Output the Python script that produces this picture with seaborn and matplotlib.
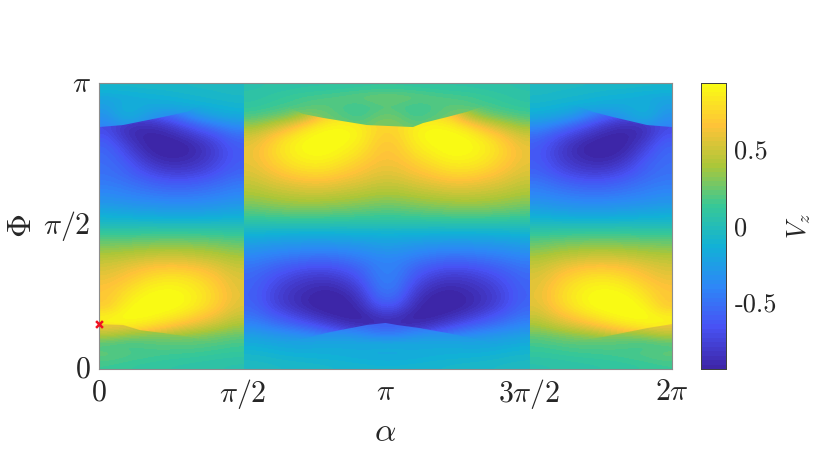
#!/usr/bin/env python

# V_z map over alpha and Phi
# three blocks because the map jumps at pi/2 and 3pi/2
# the strips hold the values on the far side of the two sharp ridges

import numpy as np
import pandas as pd
import seaborn as sns
import matplotlib.pyplot as plt
from matplotlib.colors import LinearSegmentedColormap
from matplotlib.patches import Polygon

x_labels = ["$0$", r"$\pi/2$", r"$\pi$", r"$3\pi/2$", r"$2\pi$"]
y_labels = ["$0$", r"$\pi/2$", r"$\pi$"]
cbar_values = [-0.5, 0, 0.5]
cbar_labels = ["-0.5", "0", "0.5"]
v_limit = 0.935
start_point = (0.0, 0.159)  # alpha/pi, Phi/pi

parula = [
    (0.2422, 0.1504, 0.6603),
    (0.2810, 0.3228, 0.9579),
    (0.1786, 0.5289, 0.9682),
    (0.0689, 0.6948, 0.8394),
    (0.2161, 0.7843, 0.5923),
    (0.6720, 0.7793, 0.2227),
    (0.9970, 0.7659, 0.2199),
    (0.9769, 0.9839, 0.0805),
]

# ridges, in units of pi
top_ridge_alpha = [0, .084, .223, .307, .405, .604, .712, .782, .935, 1.002,
                   1.096, 1.131, 1.215, 1.284, 1.400, 1.606, 1.724, 1.794, 1.913, 2]
top_ridge_phi = [.846, .853, .881, .899, .941, .941, .892, .878, .853, .850,
                 .846, .860, .881, .899, .941, .941, .899, .881, .853, .846]
bottom_ridge_alpha = [0, .084, .143, .223, .318, .405, .604, .736, .806, .935, 1.0,
                      1.040, 1.120, 1.215, 1.305, 1.400, 1.606, 1.738, 1.794, 1.913, 2]
bottom_ridge_phi = [.157, .154, .136, .126, .112, .084, .084, .112, .129, .154, .161,
                    .154, .143, .126, .108, .084, .084, .108, .119, .143, .157]

# rows run from Phi = pi (top) to Phi = 0 (bottom)
left_block = [
    [-.08, -.08, -.07, -.07, -.06, -.05, -.05, -.04],
    [-.20, -.18, -.15, -.13, -.11, -.09, -.07, -.06],
    [-.55, -.55, -.52, -.42, -.28, -.15, -.13, -.10],
    [-.64, -.70, -.72, -.62, -.47, -.30, -.22, -.18],
    [-.72, -.85, -.88, -.84, -.72, -.58, -.45, -.35],
    [-.65, -.86, -.93, -.93, -.86, -.76, -.65, -.52],
    [-.58, -.76, -.92, -.96, -.95, -.87, -.74, -.60],
    [-.54, -.68, -.86, -.94, -.94, -.88, -.76, -.62],
    [-.52, -.60, -.76, -.86, -.87, -.82, -.72, -.60],
    [-.50, -.56, -.66, -.74, -.76, -.73, -.65, -.56],
    [-.45, -.49, -.55, -.60, -.62, -.59, -.54, -.47],
    [-.38, -.42, -.46, -.49, -.50, -.48, -.45, -.40],
    [-.30, -.33, -.35, -.37, -.38, -.37, -.34, -.31],
    [-.19, -.21, -.23, -.24, -.25, -.24, -.23, -.20],
    [-.07, -.08, -.08, -.09, -.09, -.09, -.08, -.07],
    [.08, .08, .09, .09, .09, .09, .08, .07],
    [.22, .23, .24, .25, .25, .24, .23, .20],
    [.34, .36, .38, .40, .40, .38, .35, .31],
    [.46, .49, .53, .55, .55, .52, .48, .42],
    [.54, .60, .66, .70, .70, .66, .59, .50],
    [.60, .67, .76, .82, .82, .76, .66, .55],
    [.66, .75, .86, .91, .90, .83, .71, .57],
    [.68, .82, .93, .96, .94, .85, .73, .58],
    [.70, .90, .96, .96, .92, .82, .70, .55],
    [.88, .95, .94, .88, .80, .70, .60, .48],
    [.88, .86, .80, .72, .62, .54, .46, .37],
    [.70, .62, .52, .42, .34, .30, .27, .23],
    [.30, .22, .18, .17, .20, .20, .18, .15],
    [.24, .20, .18, .15, .14, .13, .11, .10],
    [.14, .12, .10, .09, .08, .07, .06, .05],
]

middle_block = [
    [.05, .06, .07, .08, .08, .09, .10, .11, .11, .10, .09, .08, .08, .07, .06, .05],
    [.07, .10, .13, .16, .18, .21, .24, .27, .27, .24, .21, .18, .16, .13, .10, .07],
    [.10, .13, .16, .26, .58, .68, .68, .66, .66, .68, .68, .58, .26, .16, .13, .10],
    [.18, .24, .30, .44, .74, .80, .78, .70, .70, .78, .80, .74, .44, .30, .24, .18],
    [.35, .45, .58, .76, .88, .90, .86, .74, .74, .86, .90, .88, .76, .58, .45, .35],
    [.50, .64, .78, .90, .95, .95, .88, .72, .72, .88, .95, .95, .90, .78, .64, .50],
    [.58, .72, .86, .94, .96, .92, .84, .68, .68, .84, .92, .96, .94, .86, .72, .58],
    [.60, .73, .85, .92, .93, .86, .78, .66, .66, .78, .86, .93, .92, .85, .73, .60],
    [.58, .69, .79, .85, .85, .78, .70, .62, .62, .70, .78, .85, .85, .79, .69, .58],
    [.54, .62, .70, .75, .75, .69, .63, .57, .57, .63, .69, .75, .75, .70, .62, .54],
    [.47, .54, .58, .62, .62, .58, .54, .49, .49, .54, .58, .62, .62, .58, .54, .47],
    [.40, .45, .48, .50, .50, .47, .44, .40, .40, .44, .47, .50, .50, .48, .45, .40],
    [.31, .34, .37, .38, .37, .35, .33, .30, .30, .33, .35, .37, .38, .37, .34, .31],
    [.20, .23, .24, .25, .24, .23, .21, .19, .19, .21, .23, .24, .25, .24, .23, .20],
    [.07, .08, .09, .09, .09, .08, .08, .07, .07, .08, .08, .09, .09, .09, .08, .07],
    [-.07, -.08, -.09, -.09, -.09, -.09, -.08, -.08, -.08, -.08, -.09, -.09, -.09, -.09, -.08, -.07],
    [-.20, -.23, -.24, -.25, -.25, -.24, -.23, -.21, -.21, -.23, -.24, -.25, -.25, -.24, -.23, -.20],
    [-.31, -.35, -.37, -.39, -.40, -.38, -.35, -.30, -.30, -.35, -.38, -.40, -.39, -.37, -.35, -.31],
    [-.42, -.47, -.51, -.54, -.55, -.52, -.46, -.40, -.40, -.46, -.52, -.55, -.54, -.51, -.47, -.42],
    [-.50, -.58, -.64, -.69, -.70, -.66, -.57, -.42, -.42, -.57, -.66, -.70, -.69, -.64, -.58, -.50],
    [-.55, -.65, -.74, -.80, -.82, -.77, -.65, -.44, -.44, -.65, -.77, -.82, -.80, -.74, -.65, -.55],
    [-.57, -.70, -.81, -.87, -.91, -.87, -.74, -.47, -.47, -.74, -.87, -.91, -.87, -.81, -.70, -.57],
    [-.58, -.72, -.84, -.91, -.96, -.94, -.82, -.54, -.54, -.82, -.94, -.96, -.91, -.84, -.72, -.58],
    [-.55, -.69, -.81, -.90, -.96, -.96, -.89, -.66, -.66, -.89, -.96, -.96, -.90, -.81, -.69, -.55],
    [-.48, -.58, -.68, -.78, -.87, -.94, -.95, -.84, -.84, -.95, -.94, -.87, -.78, -.68, -.58, -.48],
    [-.37, -.45, -.52, -.60, -.70, -.80, -.88, -.90, -.90, -.88, -.80, -.70, -.60, -.52, -.45, -.37],
    [-.23, -.27, -.30, -.34, -.42, -.54, -.64, -.72, -.72, -.64, -.54, -.42, -.34, -.30, -.27, -.23],
    [-.15, -.18, -.20, -.20, -.17, -.18, -.22, -.30, -.30, -.22, -.18, -.17, -.20, -.20, -.18, -.15],
    [-.08, -.10, -.13, -.14, -.15, -.16, -.19, -.20, -.20, -.19, -.16, -.15, -.14, -.13, -.10, -.08],
    [-.04, -.05, -.06, -.07, -.08, -.09, -.10, -.11, -.11, -.10, -.09, -.08, -.07, -.06, -.05, -.04],
]

right_block = [
    [-.04, -.05, -.05, -.06, -.07, -.07, -.08, -.08],
    [-.06, -.07, -.09, -.11, -.13, -.15, -.18, -.20],
    [-.10, -.13, -.15, -.28, -.42, -.52, -.55, -.55],
    [-.18, -.22, -.30, -.47, -.62, -.72, -.70, -.64],
    [-.35, -.45, -.58, -.72, -.84, -.88, -.85, -.72],
    [-.52, -.65, -.76, -.86, -.93, -.93, -.86, -.65],
    [-.60, -.74, -.87, -.95, -.96, -.92, -.76, -.58],
    [-.62, -.76, -.88, -.94, -.94, -.86, -.68, -.54],
    [-.60, -.72, -.82, -.87, -.86, -.76, -.60, -.52],
    [-.56, -.65, -.73, -.76, -.74, -.66, -.56, -.50],
    [-.47, -.54, -.59, -.62, -.60, -.55, -.49, -.45],
    [-.40, -.45, -.48, -.50, -.49, -.46, -.42, -.38],
    [-.31, -.34, -.37, -.38, -.37, -.35, -.33, -.30],
    [-.20, -.23, -.24, -.25, -.24, -.23, -.21, -.19],
    [-.07, -.08, -.09, -.09, -.09, -.08, -.08, -.07],
    [.07, .08, .09, .09, .09, .09, .08, .08],
    [.20, .23, .24, .25, .25, .24, .23, .22],
    [.31, .35, .38, .40, .40, .38, .36, .34],
    [.42, .48, .52, .55, .55, .53, .49, .46],
    [.50, .59, .66, .70, .70, .66, .60, .54],
    [.55, .66, .76, .82, .82, .76, .67, .60],
    [.57, .71, .83, .90, .91, .86, .75, .66],
    [.58, .73, .85, .94, .96, .93, .82, .68],
    [.55, .70, .82, .92, .96, .96, .90, .70],
    [.48, .60, .70, .80, .88, .94, .95, .88],
    [.37, .46, .54, .62, .72, .80, .86, .88],
    [.23, .27, .30, .34, .42, .52, .62, .70],
    [.15, .18, .20, .20, .17, .18, .22, .30],
    [.10, .11, .13, .15, .15, .18, .20, .24],
    [.05, .06, .07, .08, .09, .10, .12, .14],
]

# top five rows above the ridge
left_top_strip = [
    [-.08, -.08, -.07, -.07, -.06, -.05, -.05, -.04],
    [-.20, -.18, -.15, -.13, -.11, -.09, -.07, -.06],
    [-.26, -.12, -.18, -.20, -.18, -.15, -.13, -.10],
    [-.32, -.14, -.26, -.36, -.35, -.30, -.22, -.18],
    [-.42, -.30, -.35, -.42, -.48, -.45, -.40, -.35],
]
middle_top_strip = [
    [.05, .06, .07, .08, .08, .09, .10, .11, .11, .10, .09, .08, .08, .07, .06, .05],
    [.07, .10, .13, .16, .18, .21, .24, .27, .27, .24, .21, .18, .16, .13, .10, .07],
    [.10, .13, .16, .20, .22, .16, .12, .18, .18, .12, .16, .22, .20, .16, .13, .10],
    [.18, .24, .30, .34, .26, .20, .14, .26, .26, .14, .20, .26, .34, .30, .24, .18],
    [.35, .40, .36, .34, .30, .26, .24, .30, .30, .24, .26, .30, .34, .36, .40, .35],
]
right_top_strip = [
    [-.04, -.05, -.05, -.06, -.07, -.07, -.08, -.08],
    [-.06, -.07, -.09, -.11, -.13, -.15, -.18, -.20],
    [-.10, -.13, -.15, -.18, -.20, -.18, -.12, -.26],
    [-.18, -.22, -.30, -.35, -.36, -.26, -.14, -.32],
    [-.35, -.40, -.45, -.48, -.42, -.35, -.30, -.42],
]

# bottom five rows below the ridge
left_bottom_strip = [
    [.62, .60, .52, .45, .42, .40, .38, .34],
    [.42, .34, .32, .30, .32, .28, .25, .22],
    [.16, .14, .16, .20, .20, .20, .18, .15],
    [.24, .20, .18, .15, .14, .13, .11, .10],
    [.14, .12, .10, .09, .08, .07, .06, .05],
]
middle_bottom_strip = [
    [-.34, -.38, -.40, -.42, -.45, -.52, -.55, -.60, -.60, -.55, -.52, -.45, -.42, -.40, -.38, -.34],
    [-.22, -.25, -.28, -.30, -.32, -.30, -.34, -.42, -.42, -.34, -.30, -.32, -.30, -.28, -.25, -.22],
    [-.15, -.18, -.20, -.20, -.17, -.18, -.16, -.14, -.14, -.16, -.18, -.17, -.20, -.20, -.18, -.15],
    [-.08, -.10, -.13, -.14, -.15, -.16, -.19, -.20, -.20, -.19, -.16, -.15, -.14, -.13, -.10, -.08],
    [-.04, -.05, -.06, -.07, -.08, -.09, -.10, -.11, -.11, -.10, -.09, -.08, -.07, -.06, -.05, -.04],
]
right_bottom_strip = [
    [.34, .38, .40, .42, .45, .52, .60, .62],
    [.22, .25, .28, .32, .30, .32, .34, .42],
    [.15, .18, .20, .20, .20, .16, .14, .16],
    [.10, .11, .13, .14, .15, .18, .20, .24],
    [.05, .06, .07, .08, .09, .10, .12, .14],
]

sns.set_theme(style="white")
plt.rcParams["mathtext.fontset"] = "cm"
plt.rcParams["font.family"] = ["DejaVu Sans"]

left = np.array(left_block)
middle = np.array(middle_block)
right = np.array(right_block)
v = pd.DataFrame(np.hstack([left, middle, right]))
n_rows, n_cols = v.shape

cmap = LinearSegmentedColormap.from_list("parula", parula, N=64)
shade = dict(cmap=cmap, vmin=-v_limit, vmax=v_limit, aspect="auto", interpolation="bicubic")

fig = plt.figure(figsize=(8.3, 4.7), dpi=100)
ax = fig.add_axes([99 / 830, 101 / 470, 573 / 830, 286 / 470])
cax = fig.add_axes([701 / 830, 101 / 470, 25 / 830, 286 / 470])

sns.heatmap(v, ax=ax, cbar_ax=cax, cmap=cmap, vmin=-v_limit, vmax=v_limit)

# smooth each block on its own so the jumps stay sharp
edges = [0, 8.07, 24.07, n_cols]
blocks = [left, middle, right]
top_strips = [left_top_strip, middle_top_strip, right_top_strip]
bottom_strips = [left_bottom_strip, middle_bottom_strip, right_bottom_strip]

to_cols = n_cols / 2
top_clip = Polygon(
    [(0, 0)]
    + [(a * to_cols, n_rows * (1 - p)) for a, p in zip(top_ridge_alpha, top_ridge_phi)]
    + [(n_cols, 0)],
    transform=ax.transData,
)
bottom_clip = Polygon(
    [(0, n_rows)]
    + [(a * to_cols, n_rows * (1 - p)) for a, p in zip(bottom_ridge_alpha, bottom_ridge_phi)]
    + [(n_cols, n_rows)],
    transform=ax.transData,
)

for i, block in enumerate(blocks):
    ax.imshow(block, extent=(edges[i], edges[i + 1], n_rows, 0), zorder=2, **shade)
    im = ax.imshow(np.array(top_strips[i]), extent=(edges[i], edges[i + 1], 5, 0), zorder=2.5, **shade)
    im.set_clip_path(top_clip)
    im = ax.imshow(
        np.array(bottom_strips[i]), extent=(edges[i], edges[i + 1], n_rows, n_rows - 5), zorder=2.5, **shade
    )
    im.set_clip_path(bottom_clip)
ax.set_xlim(0, n_cols)
ax.set_ylim(n_rows, 0)

ax.set_xticks(np.linspace(0, n_cols, len(x_labels)), x_labels, rotation=0, fontsize=21.5)
ax.set_yticks(np.linspace(n_rows, 0, len(y_labels)), y_labels, rotation=0, fontsize=21.5)
ax.tick_params(length=0, pad=6, colors="#262626")
ax.set_xlabel(r"$\alpha$", fontsize=24, color="#262626", labelpad=3)
ax.set_ylabel(r"$\Phi$", fontsize=24, color="#262626", labelpad=4)
for side in ax.spines.values():
    side.set_visible(True)
    side.set_color("#8c8c8c")
    side.set_linewidth(0.8)
    side.set_zorder(3)

ax.scatter(
    start_point[0] * to_cols,
    n_rows * (1 - start_point[1]),
    marker="x",
    s=24,
    color="#f01020",
    linewidth=1.8,
    clip_on=False,
    zorder=4,
)

cax.set_yticks(cbar_values, cbar_labels, fontsize=19, family="cmr10")
cax.tick_params(length=2, width=0.6, pad=6, colors="#262626", direction="in", right=True)
cax.set_ylabel("$V_z$", fontsize=19, color="#262626", labelpad=6)
cax.yaxis.set_label_position("right")
for side in cax.spines.values():
    side.set_visible(True)
    side.set_color("#404040")
    side.set_linewidth(0.7)

plt.savefig("out.png", dpi=100)
plt.close()
